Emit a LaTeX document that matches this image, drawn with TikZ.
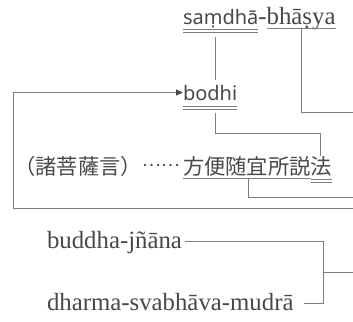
\documentclass[tikz,border=0pt]{standalone}
\usepackage{fontspec}
\setmainfont{Liberation Serif}
\newfontfamily\cjk{Noto Sans CJK JP}
\newfontfamily\sansf{Noto Sans}
\usetikzlibrary{arrows.meta}
\definecolor{txt}{HTML}{484848}
\definecolor{ln}{HTML}{7c7c7c}
\begin{document}
\begin{tikzpicture}[x=1pt,y=-1pt,
  every node/.style={inner sep=0pt,outer sep=0pt,text=txt},
  lat/.style={font=\fontsize{24.8}{28}\selectfont},
  sf/.style={font=\sansf\fontsize{20}{24}\selectfont},
  jp/.style={font=\cjk\fontsize{21.3}{25}\selectfont},
  jpdots/.style={font=\cjk\fontsize{17.5}{20}\selectfont},
  conn/.style={draw=ln,line width=0.9pt},
  ul/.style={draw=ln,line width=0.8pt}]
\useasboundingbox (0,0) rectangle (353,321);
% text nodes
\node[sf,anchor=base west] (samdha) at (183,25) {saṃdhā};
\node[lat,anchor=base west] (hyph) at (samdha.base east) {-};
\node[lat,anchor=base west] (bhasya) at (hyph.base east) {bhāṣya};
\node[sf,anchor=base west] (bodhi) at (183,100) {bodhi};
\node[jp,anchor=base west] (hoben) at (183,174) {方便随宜所説};
\node[jpdots,anchor=base east] (dots) at ([xshift=-3pt]hoben.base west) {\raisebox{8pt}{……}};
\node[jp,anchor=base east] (paren) at ([xshift=-1pt]dots.base west) {（諸菩薩言）};
\node[jp,anchor=base west] (ho) at (hoben.base east) {法};
\node[lat,anchor=base west] (buddha) at (47,248) {buddha-jñāna};
\node[lat,anchor=base west] (dharma) at (47,310) {dharma-svabhāva-mudrā};
% free ends
\coordinate (e1) at (353,112);
\coordinate (e2) at (353,208);
\coordinate (c1) at (13,0);
\coordinate (e3) at (353,197);
\coordinate (j) at (323,272);
\coordinate (e4) at (353,272);
% underlines
\draw[ul] ([yshift=-4.5pt]samdha.base west) -- ([yshift=-4.5pt]samdha.base east);
\draw[ul] ([yshift=-7.7pt]samdha.base west) -- ([yshift=-7.7pt]samdha.base east);
\draw[ul] ([yshift=-3.5pt]bhasya.base west) -- ([yshift=-3.5pt]bhasya.base east);
\draw[ul] ([yshift=-6.5pt]bodhi.base west) -- ([yshift=-6.5pt]bodhi.base east);
\draw[ul] ([yshift=-9.3pt]bodhi.base west) -- ([yshift=-9.3pt]bodhi.base east);
\draw[ul] ([yshift=-4pt]hoben.base west) -- ([yshift=-4pt]hoben.base east);
\draw[ul] ([yshift=-5.3pt]ho.base west) -- ([yshift=-5.3pt]ho.base east);
\draw[ul] ([yshift=-7.9pt]ho.base west) -- ([yshift=-7.9pt]ho.base east);
% connectors
\draw[conn] ([shift={(32pt,-12pt)}]samdha.base west) -- ([shift={(32pt,20pt)}]bodhi.base west);
\draw[conn] ([shift={(35pt,-4pt)}]bhasya.base west) |- (e1);
\draw[conn,-{Triangle[length=7pt,width=6pt,color=txt]}] (e2) -| (c1 |- bodhi.west) -- (bodhi.west);
\draw[conn] ([shift={(32pt,-13pt)}]bodhi.base west) |- ([shift={(-1pt,23pt)}]ho.north) -- ([xshift=-1pt]ho.north);
\draw[conn] ([shift={(65pt,-4pt)}]hoben.base west) |- (e3);
\draw[conn] ([shift={(3pt,7pt)}]buddha.base east) -| (j);
\draw[conn] ([shift={(10pt,7pt)}]dharma.base east) -| (j);
\draw[conn] (j) -- (e4);
\end{tikzpicture}
\end{document}
